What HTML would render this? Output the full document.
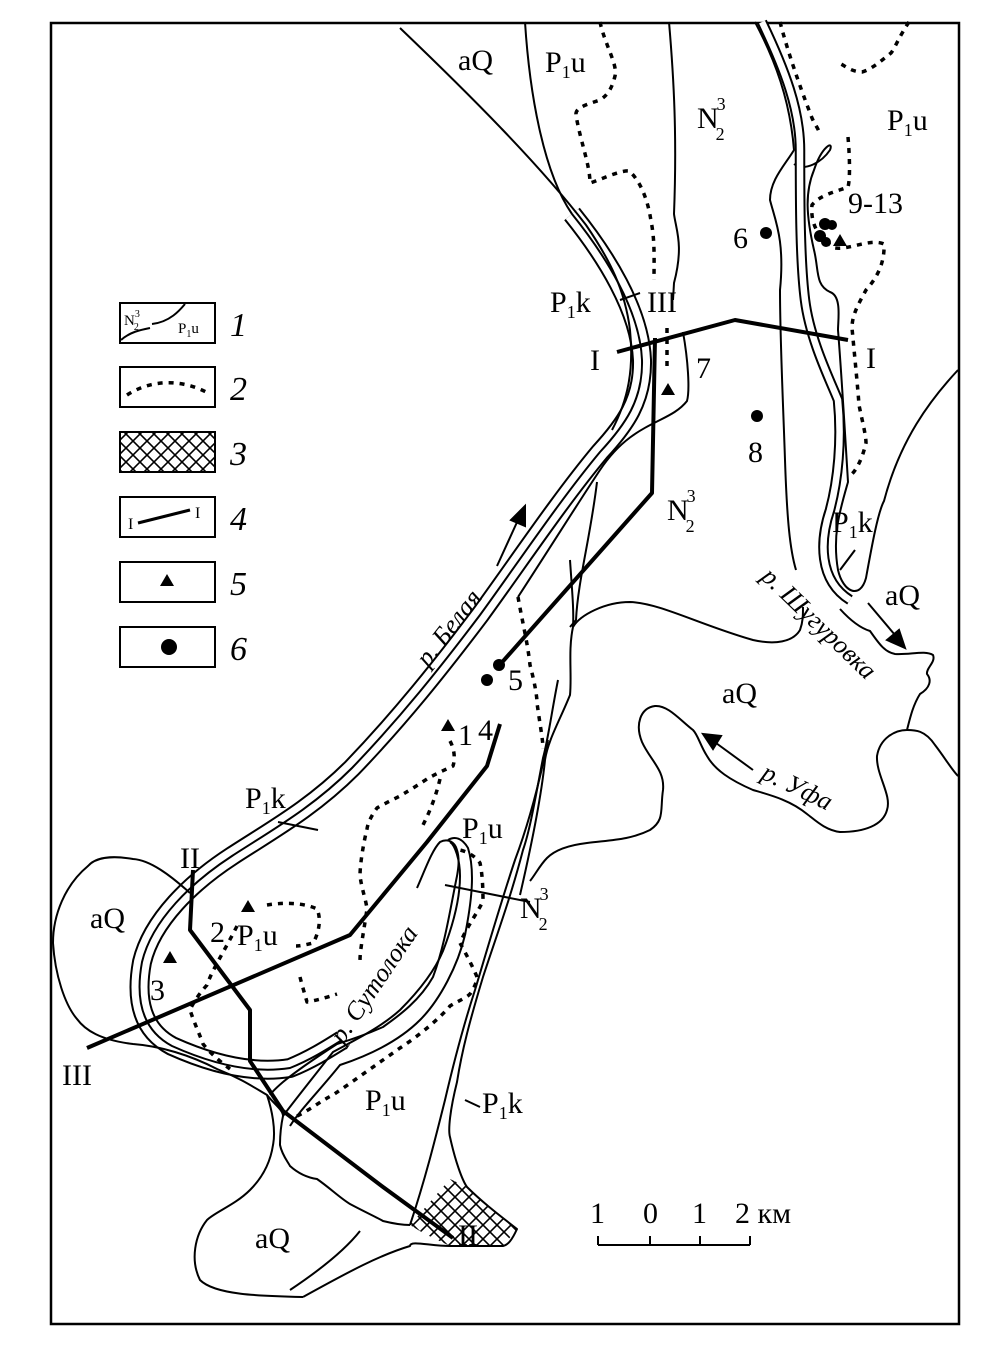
<!DOCTYPE html>
<html><head><meta charset="utf-8"><style>
html,body{margin:0;padding:0;background:#fff;}
svg{display:block;}
text{font-family:"Liberation Serif",serif;fill:#000;}
</style></head><body>
<svg width="1004" height="1345" viewBox="0 0 1004 1345" xmlns="http://www.w3.org/2000/svg">
<defs>
<pattern id="hatch" width="14" height="14" patternUnits="userSpaceOnUse">
<path d="M0,0 L14,14 M14,0 L0,14" stroke="#000" stroke-width="1.6"/>
</pattern>
</defs>
<rect x="51" y="23" width="908" height="1301" fill="#fff" stroke="#000" stroke-width="2.5"/>

<path d="M410,1225 L450,1179 L467,1187 L500,1217 L517,1229 L503,1246 L450,1246 L423,1233 Z" fill="url(#hatch)" stroke="none"/>

<g fill="none" stroke-linecap="butt" stroke-linejoin="round">
<path d="M572,214 C605,255 640,310 642,360 C643,400 625,425 600,452 C560,500 520,560 480,615 C440,668 400,718 352,768 C312,808 272,830 232,856 C192,882 152,920 142,962 C135,1000 142,1030 172,1046 C212,1064 252,1074 290,1068 C310,1060 326,1050 342,1040" stroke="#000" stroke-width="20"/>
<path d="M572,214 C605,255 640,310 642,360 C643,400 625,425 600,452 C560,500 520,560 480,615 C440,668 400,718 352,768 C312,808 272,830 232,856 C192,882 152,920 142,962 C135,1000 142,1030 172,1046 C212,1064 252,1074 290,1068 C310,1060 326,1050 342,1040" stroke="#fff" stroke-width="16"/>
<path d="M572,214 C605,255 640,310 642,360 C643,400 625,425 600,452 C560,500 520,560 480,615 C440,668 400,718 352,768 C312,808 272,830 232,856 C192,882 152,920 142,962 C135,1000 142,1030 172,1046 C212,1064 252,1074 290,1068 C310,1060 326,1050 342,1040" stroke="#000" stroke-width="2"/>
</g>

<g fill="none" stroke="#000" stroke-width="2" stroke-linejoin="round">
<path d="M400,28 C470,95 540,165 586,225 C610,260 625,290 630,330 C634,370 628,400 612,430"/>
<path d="M525,22 C530,100 545,175 572,214"/>
<path d="M683,332 C688,360 690,390 687,401 C680,410 670,415 660,420 C640,430 620,440 600,470 C580,500 555,540 518,597"/>
<path d="M669,22 C674,80 677,137 674,214 C676,230 684,245 674,283 L673,300"/>
<path d="M597,482 C590,540 578,580 576,620 L570,627"/>
<path d="M570,560 C572,590 574,610 573,627"/>
<path d="M755,22 C775,60 790,100 794,150 C785,165 770,180 770,200 C775,220 785,240 780,290 C780,340 783,400 785,460 C787,520 790,550 796,570"/>
<path d="M794,164 C805,172 822,162 830,150 C834,140 822,146 814,170 C805,192 806,215 814,250 C819,270 815,285 830,292 C842,296 838,320 838,330 C842,380 846,450 848,482 C840,510 832,535 838,570 C843,592 860,600 866,578 C872,545 878,512 884,501 C900,440 930,400 958,370"/>
<path d="M573,627 C580,615 605,602 630,602 C660,603 700,625 753,640 C775,645 793,642 800,630 C803,622 803,615 803,607"/>
<path d="M840,609 C850,620 860,628 870,631 C878,642 884,652 895,654 C910,655 925,650 933,655 C936,662 926,668 927,674 C932,680 930,688 920,694 C913,705 910,718 907,730 C895,730 880,738 877,756 C876,775 892,795 887,810 C883,825 865,832 840,832 C825,830 815,820 807,814 C790,800 770,795 753,790 C730,780 715,770 707,756 C700,745 698,735 693,730 C680,720 668,705 655,706 C640,708 635,725 642,742 C650,760 665,770 663,790 C660,810 665,820 650,830 C630,840 610,840 587,843 C570,845 555,850 547,858 C540,865 535,875 530,881"/>
<path d="M907,730 C915,730 925,730 935,745 C945,758 952,770 958,776"/>
<path d="M573,627 C568,650 572,675 570,695 C560,720 548,740 545,760 C542,790 535,830 520,895"/>
<path d="M558,680 C552,710 548,740 543,758 C535,800 530,830 523,850 C510,900 495,940 483,977 C470,1020 462,1050 457,1082 C450,1110 448,1130 450,1137 C455,1160 462,1180 467,1187 C480,1200 495,1212 517,1229 C512,1240 508,1245 503,1246 L450,1246 C430,1246 410,1240 410,1246 C380,1255 350,1271 303,1297"/>
<path d="M548,740 C540,780 530,820 515,860 C500,905 487,950 475,990 C462,1030 452,1070 445,1100 C435,1140 425,1180 410,1225"/>
<path d="M190,893 C170,875 150,860 133,859 C110,855 95,858 88,866 C65,885 53,915 53,943 C55,975 65,1005 77,1019 C85,1030 100,1040 133,1044 C160,1046 190,1055 217,1069 C240,1078 255,1088 267,1095 C272,1110 276,1130 273,1145 C270,1165 260,1180 250,1190 C235,1205 215,1212 207,1220 C195,1235 190,1260 200,1280 C215,1295 260,1296 303,1297"/>
<path d="M267,1095 C275,1105 283,1110 283,1116 C280,1130 280,1140 280,1145 C282,1155 288,1162 290,1166 C300,1175 310,1178 317,1179 C330,1188 340,1198 350,1204 C365,1212 378,1218 383,1221 C395,1224 405,1225 410,1225"/>
<path d="M360,1231 C345,1250 320,1270 290,1290"/>
<path d="M417,888 C425,870 432,850 440,842 C448,838 455,842 457,850 C460,860 458,870 457,876 C450,910 445,945 433,977 C420,1000 400,1015 383,1027 C365,1035 350,1040 337,1044 C320,1055 300,1068 283,1082 C276,1088 272,1092 270,1095"/>
<path d="M283,1116 C295,1100 315,1075 333,1052 C355,1040 380,1028 400,1010 C420,990 435,970 443,951 C455,920 460,895 460,876 C460,860 455,845 450,842"/>
<path d="M290,1126 C300,1110 320,1090 340,1065 C370,1055 400,1040 420,1020 C440,1000 458,965 465,935 C472,900 475,870 468,848 C462,838 455,836 448,840"/>
<path d="M598,1245 L750,1245 M598,1236 L598,1245 M650,1236 L650,1245 M700,1236 L700,1245 M750,1236 L750,1245"/>
<path d="M278,822 L318,830"/>
<path d="M620,300 L640,293"/>
<path d="M445,885 L530,902"/>
<path d="M465,1100 L480,1107"/>
<path d="M840,570 L855,550"/>
</g>

<g fill="none" stroke-linejoin="round">
<path d="M762,22 C785,70 800,110 800,150 C800,200 800,260 805,300 C810,340 830,380 838,400 C842,440 838,480 830,510 C820,540 818,580 850,600" stroke="#000" stroke-width="10.5"/>
<path d="M762,22 C785,70 800,110 800,150 C800,200 800,260 805,300 C810,340 830,380 838,400 C842,440 838,480 830,510 C820,540 818,580 850,600" stroke="#fff" stroke-width="6.5"/>
</g>

<g fill="none" stroke="#000" stroke-width="3.5" stroke-dasharray="5 6" stroke-linejoin="round">
<path d="M600,22 C605,45 618,65 615,76 C612,88 608,95 600,100 C585,105 575,108 576,115 C580,140 590,165 590,183 C600,180 620,170 629,171 C640,180 648,200 651,221 C655,240 654,260 654,280"/>
<path d="M780,22 C790,60 805,100 812,118 C815,125 818,128 819,132"/>
<path d="M909,22 C900,35 895,48 891,53 C880,62 870,70 862,72 C852,72 845,66 841,64"/>
<path d="M848,137 C850,160 850,180 848,187 C835,192 820,195 812,205 C810,225 820,240 835,248 C850,250 870,238 884,244 C885,265 875,280 866,290 C858,305 852,315 852,328 C855,360 858,390 859,405 C862,420 866,435 866,443 C862,460 856,470 852,474"/>
<path d="M667,328 L667,370"/>
<path d="M518,597 C522,620 528,645 530,665 C534,680 537,695 537,703 C540,725 543,740 543,749"/>
<path d="M450,741 C455,750 455,760 453,766 C440,772 432,776 427,779 C415,787 405,793 400,796 C388,802 380,806 377,808 C372,815 368,822 367,829 C363,845 360,865 360,876 C362,890 366,900 367,909 C364,930 360,950 360,960"/>
<path d="M440,779 C435,800 428,815 423,825"/>
<path d="M267,905 C285,902 305,903 317,909 C322,920 318,935 313,943 C305,945 300,946 296,946"/>
<path d="M237,926 C225,950 212,970 207,985 C198,995 192,1005 190,1010 C195,1025 200,1035 203,1044 C212,1055 222,1063 230,1069"/>
<path d="M297,1116 C310,1110 322,1100 333,1095 C355,1080 380,1062 400,1048 C420,1035 440,1018 450,1006 C460,1000 466,998 470,994 C474,988 477,982 477,977 C472,965 465,952 460,943 C468,925 478,912 483,901 C483,885 482,872 480,863 C475,856 468,852 460,850"/>
<path d="M300,977 C302,985 305,995 307,1002 C318,1000 328,997 337,994"/>
</g>

<g fill="none" stroke="#000" stroke-width="4" stroke-linejoin="round">
<path d="M617,352 L735,320 L848,340"/>
<path d="M655,338 L652,493 L497,668"/>
<path d="M500,724 L487,766 L427,842 L350,935 L87,1048"/>
<path d="M193,870 L190,930 L250,1010 L250,1061 L283,1111 L383,1187 L453,1238"/>
</g>

<g stroke="#000" stroke-width="2" fill="#000">
<line x1="497" y1="566" x2="518" y2="520"/><polygon points="525,506 511,520 525,526"/>
<line x1="868" y1="603" x2="895" y2="635"/><polygon points="905,648 887,640 899,630"/>
<line x1="753" y1="770" x2="716" y2="743"/><polygon points="703,734 721,736 713,749"/>
</g>

<g fill="#000">
<polygon points="668,383 661,395 675,395"/>
<polygon points="448,719 441,731 455,731"/>
<polygon points="248,900 241,912 255,912"/>
<polygon points="170,951 163,963 177,963"/>
<polygon points="840,234 833,246 847,246"/>
<circle cx="766" cy="233" r="6"/>
<circle cx="757" cy="416" r="6"/>
<circle cx="487" cy="680" r="6"/>
<circle cx="499" cy="665" r="6"/>
<circle cx="825" cy="224" r="6"/><circle cx="832" cy="225" r="5"/><circle cx="820" cy="236" r="6"/><circle cx="826" cy="242" r="5"/>
</g>

<g font-size="30">
<text x="458" y="70">aQ</text>
<text x="545" y="72">P<tspan font-size="18" dy="6">1</tspan><tspan dy="-6">u</tspan></text>
<text x="697" y="128">N<tspan font-size="18" dx="-2" dy="-18">3</tspan><tspan font-size="18" dx="-10" dy="30">2</tspan></text>
<text x="887" y="130">P<tspan font-size="18" dy="6">1</tspan><tspan dy="-6">u</tspan></text>
<text x="848" y="213">9-13</text>
<text x="733" y="248">6</text>
<text x="550" y="312">P<tspan font-size="18" dy="6">1</tspan><tspan dy="-6">k</tspan></text>
<text x="647" y="312">III</text>
<text x="590" y="370">I</text>
<text x="696" y="378">7</text>
<text x="866" y="368">I</text>
<text x="748" y="462">8</text>
<text x="667" y="520">N<tspan font-size="18" dx="-2" dy="-18">3</tspan><tspan font-size="18" dx="-10" dy="30">2</tspan></text>
<text x="832" y="532">P<tspan font-size="18" dy="6">1</tspan><tspan dy="-6">k</tspan></text>
<text x="885" y="605">aQ</text>
<text x="508" y="690">5</text>
<text x="722" y="703">aQ</text>
<text x="458" y="745">1</text>
<text x="478" y="740">4</text>
<text x="245" y="808">P<tspan font-size="18" dy="6">1</tspan><tspan dy="-6">k</tspan></text>
<text x="462" y="838">P<tspan font-size="18" dy="6">1</tspan><tspan dy="-6">u</tspan></text>
<text x="180" y="868">II</text>
<text x="90" y="928">aQ</text>
<text x="210" y="942">2</text>
<text x="237" y="945">P<tspan font-size="18" dy="6">1</tspan><tspan dy="-6">u</tspan></text>
<text x="520" y="918">N<tspan font-size="18" dx="-2" dy="-18">3</tspan><tspan font-size="18" dx="-10" dy="30">2</tspan></text>
<text x="150" y="1000">3</text>
<text x="62" y="1085">III</text>
<text x="365" y="1110">P<tspan font-size="18" dy="6">1</tspan><tspan dy="-6">u</tspan></text>
<text x="482" y="1113">P<tspan font-size="18" dy="6">1</tspan><tspan dy="-6">k</tspan></text>
<text x="255" y="1248">aQ</text>
<text x="458" y="1245">II</text>
<text x="590" y="1223">1</text>
<text x="643" y="1223">0</text>
<text x="692" y="1223">1</text>
<text x="735" y="1223">2 км</text>
</g>
<g font-size="26" font-style="italic">
<text transform="translate(428,668) rotate(-52)">р. Белая</text>
<text transform="translate(760,578) rotate(44)">р. Шугуровка</text>
<text transform="translate(760,778) rotate(26)">р. Уфа</text>
<text transform="translate(343,1045) rotate(-56)">р. Сутолока</text>
</g>

<g fill="#fff" stroke="#000" stroke-width="2">
<rect x="120" y="303" width="95" height="40"/>
<rect x="120" y="367" width="95" height="40"/>
<rect x="120" y="432" width="95" height="40" fill="url(#hatch)"/>
<rect x="120" y="497" width="95" height="40"/>
<rect x="120" y="562" width="95" height="40"/>
<rect x="120" y="627" width="95" height="40"/>
</g>
<path d="M121,340 C130,332 140,330 150,328 M152,324 C170,322 180,310 185,304" fill="none" stroke="#000" stroke-width="2"/>
<text x="124" y="325" font-size="15">N<tspan font-size="10" dy="-8">3</tspan><tspan font-size="10" dx="-6" dy="13">2</tspan></text>
<text x="178" y="333" font-size="15">P<tspan font-size="10" dy="4">1</tspan><tspan dy="-4">u</tspan></text>
<path d="M127,395 C150,380 180,378 208,393" fill="none" stroke="#000" stroke-width="3.5" stroke-dasharray="5 6"/>
<line x1="138" y1="523" x2="190" y2="510" stroke="#000" stroke-width="3"/>
<text x="128" y="529" font-size="16">I</text>
<text x="195" y="518" font-size="16">I</text>
<polygon points="167,574 160,586 174,586" fill="#000"/>
<circle cx="169" cy="647" r="8" fill="#000"/>
<g font-size="34" font-style="italic">
<text x="230" y="336">1</text>
<text x="230" y="400">2</text>
<text x="230" y="465">3</text>
<text x="230" y="530">4</text>
<text x="230" y="595">5</text>
<text x="230" y="660">6</text>
</g>
</svg>
</body></html>
